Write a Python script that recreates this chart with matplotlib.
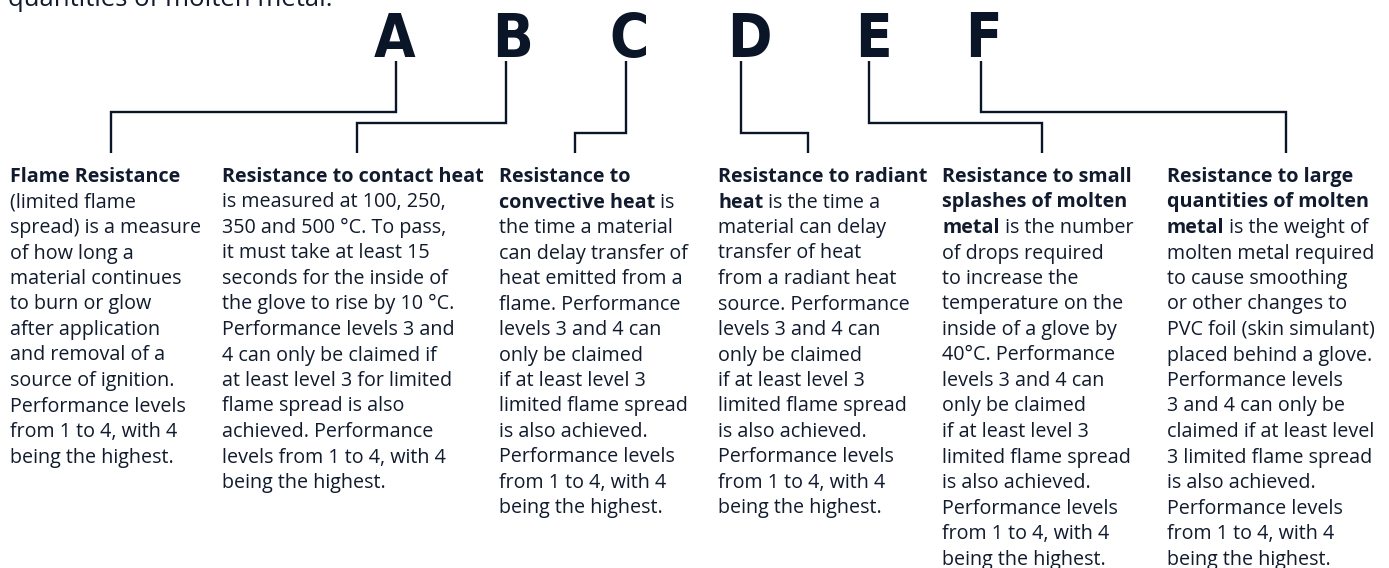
import matplotlib
matplotlib.use("Agg")
import matplotlib.pyplot as plt
from matplotlib import font_manager as fm

# ---------------- data ----------------
letters = ["A", "B", "C", "D", "E", "F"]
letter_cx = [395, 513, 629, 749, 873, 983]          # letter centres (px)
stem_x = [396, 506, 626, 741, 869, 981]              # vertical line under letter
elbow_y = [112, 123, 133, 133, 123, 112]             # horizontal elbow height
drop_x = [111, 357, 575, 808, 1042, 1286]            # vertical line down to text
col_x = [10, 222, 499, 718, 942, 1167]               # text column left edges

# each column: list of lines; each line is (bold_part, regular_part)
col_A = [("Flame Resistance", ""), ("", "(limited flame"), ("", "spread) is a measure"),
         ("", "of how long a"), ("", "material continues"), ("", "to burn or glow"),
         ("", "after application"), ("", "and removal of a"), ("", "source of ignition."),
         ("", "Performance levels"), ("", "from 1 to 4, with 4"), ("", "being the highest.")]
col_B = [("Resistance to contact heat", ""), ("", "is measured at 100, 250,"),
         ("", "350 and 500 °C. To pass,"), ("", "it must take at least 15"),
         ("", "seconds for the inside of"), ("", "the glove to rise by 10 °C."),
         ("", "Performance levels 3 and"), ("", "4 can only be claimed if"),
         ("", "at least level 3 for limited"), ("", "flame spread is also"),
         ("", "achieved. Performance"), ("", "levels from 1 to 4, with 4"),
         ("", "being the highest.")]
col_C = [("Resistance to", ""), ("convective heat", " is"), ("", "the time a material"),
         ("", "can delay transfer of"), ("", "heat emitted from a"), ("", "flame. Performance"),
         ("", "levels 3 and 4 can"), ("", "only be claimed"), ("", "if at least level 3"),
         ("", "limited flame spread"), ("", "is also achieved."), ("", "Performance levels"),
         ("", "from 1 to 4, with 4"), ("", "being the highest.")]
col_D = [("Resistance to radiant", ""), ("heat", " is the time a"), ("", "material can delay"),
         ("", "transfer of heat"), ("", "from a radiant heat"), ("", "source. Performance"),
         ("", "levels 3 and 4 can"), ("", "only be claimed"), ("", "if at least level 3"),
         ("", "limited flame spread"), ("", "is also achieved."), ("", "Performance levels"),
         ("", "from 1 to 4, with 4"), ("", "being the highest.")]
col_E = [("Resistance to small", ""), ("splashes of molten", ""), ("metal", " is the number"),
         ("", "of drops required"), ("", "to increase the"), ("", "temperature on the"),
         ("", "inside of a glove by"), ("", "40°C. Performance"), ("", "levels 3 and 4 can"),
         ("", "only be claimed"), ("", "if at least level 3"), ("", "limited flame spread"),
         ("", "is also achieved."), ("", "Performance levels"), ("", "from 1 to 4, with 4"),
         ("", "being the highest.")]
col_F = [("Resistance to large", ""), ("quantities of molten", ""), ("metal", " is the weight of"),
         ("", "molten metal required"), ("", "to cause smoothing"), ("", "or other changes to"),
         ("", "PVC foil (skin simulant)"), ("", "placed behind a glove."), ("", "Performance levels"),
         ("", "3 and 4 can only be"), ("", "claimed if at least level"), ("", "3 limited flame spread"),
         ("", "is also achieved."), ("", "Performance levels"), ("", "from 1 to 4, with 4"),
         ("", "being the highest.")]
columns = [col_A, col_B, col_C, col_D, col_E, col_F]
top_fragment = "quantities of molten metal."

# ---------------- style ----------------
W, H = 1389, 568
NAVY = "#0b1528"
TEXT = "#111b2d"
BODY_FONT = ["Open Sans", "DejaVu Sans"]
BODY_SIZE = 14.2
LINE_H = 25.5
FIRST_BASE = 182
STEM_TOP = 61
DROP_BOTTOM = 153

# pick a narrow bold face for the big letters if one is installed
narrow = None
for f in fm.fontManager.ttflist:
    n = f.name.lower()
    if ("narrow" in n or "condensed" in n or f.stretch in ("condensed", "semi-condensed",
        "extra-condensed")) and f.weight in ("bold", 700, "heavy", 800, "black", 900):
        narrow = f.name
        narrow_stretch = f.stretch
        break
LETTER_FONT = [narrow] if narrow else ["Roboto", "DejaVu Sans"]

fig = plt.figure(figsize=(W / 100, H / 100), dpi=100)
ax = fig.add_axes([0, 0, 1, 1])
ax.set_xlim(0, W)
ax.set_ylim(H, 0)
ax.axis("off")
renderer = fig.canvas.get_renderer()

# cut-off fragment at the top
ax.text(8, 6, top_fragment, fontsize=18.5, family=BODY_FONT, color=TEXT,
        ha="left", va="baseline")

# big letters
for L, cx in zip(letters, letter_cx):
    kw = dict(fontsize=43, fontweight="bold", family=LETTER_FONT, color=NAVY,
              ha="center", va="baseline")
    if narrow:
        kw["fontstretch"] = narrow_stretch
    ax.text(cx, 57, L, **kw)

# connectors
for sx, ey, dx in zip(stem_x, elbow_y, drop_x):
    ax.plot([sx, sx, dx, dx], [STEM_TOP, ey, ey, DROP_BOTTOM], color=NAVY,
            lw=1.7, solid_joinstyle="miter", solid_capstyle="butt")

# text columns
inv = ax.transData.inverted()
for x0, lines in zip(col_x, columns):
    for i, (b, r) in enumerate(lines):
        y = FIRST_BASE + i * LINE_H
        x = x0
        if b:
            t = ax.text(x, y, b, fontsize=BODY_SIZE, fontweight="bold",
                        family=BODY_FONT, color=TEXT, ha="left", va="baseline")
            bb = t.get_window_extent(renderer)
            x = inv.transform((bb.x1, 0))[0]
        if r:
            ax.text(x, y, r, fontsize=BODY_SIZE, family=BODY_FONT, color=TEXT,
                    ha="left", va="baseline")

fig.savefig("out.png", dpi=100, facecolor="white")
